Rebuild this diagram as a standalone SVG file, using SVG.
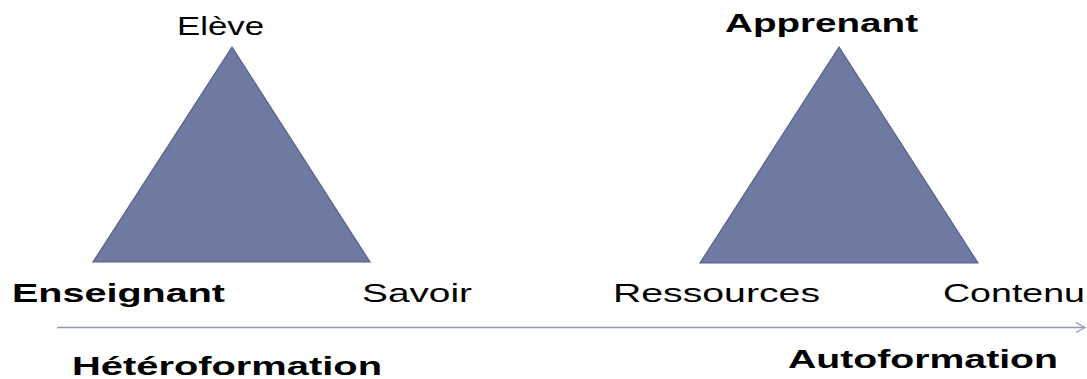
<svg xmlns="http://www.w3.org/2000/svg" width="1087" height="379" viewBox="0 0 1087 379">
<style>
.tri{fill:#6e7aa1;stroke:#55608a;stroke-width:1.2}
.t{font-family:"Liberation Sans",Arial,sans-serif;font-size:26px;fill:#000}
.b{font-weight:bold}
.axis{stroke:#8e98b6;stroke-width:1.6;fill:none}
</style>
<defs>
<marker id="arr" markerWidth="12" markerHeight="12" refX="10" refY="6" orient="auto" markerUnits="userSpaceOnUse">
<path d="M1,1 L10,6 L1,11" fill="none" stroke="#8e98b6" stroke-width="1.2"/>
</marker>
</defs>
<rect width="1087" height="379" fill="#fff"/>
<g id="triangle-hetero">
<polygon class="tri" points="232,47 93,262 370,262"/>
</g>
<g id="triangle-auto">
<polygon class="tri" points="839,47 700,263 978,263"/>
</g>
<g id="node-eleve"><text class="t" x="177" y="35" textLength="87" lengthAdjust="spacingAndGlyphs">Elève</text></g>
<g id="node-enseignant"><text class="t b" x="12" y="302" textLength="213" lengthAdjust="spacingAndGlyphs">Enseignant</text></g>
<g id="node-savoir"><text class="t" x="362" y="302" textLength="110" lengthAdjust="spacingAndGlyphs">Savoir</text></g>
<g id="node-apprenant"><text class="t b" x="725" y="32" textLength="193" lengthAdjust="spacingAndGlyphs">Apprenant</text></g>
<g id="node-ressources"><text class="t" x="613" y="302" textLength="207" lengthAdjust="spacingAndGlyphs">Ressources</text></g>
<g id="node-contenu"><text class="t" x="943" y="302" textLength="142" lengthAdjust="spacingAndGlyphs">Contenu</text></g>
<g id="label-hetero"><text class="t b" x="72" y="375" textLength="310" lengthAdjust="spacingAndGlyphs">Hétéroformation</text></g>
<g id="label-auto"><text class="t b" x="788" y="368" textLength="270" lengthAdjust="spacingAndGlyphs">Autoformation</text></g>
<g id="connectors">
<line class="axis" x1="57" y1="327.5" x2="1085" y2="327.5" marker-end="url(#arr)"/>
</g>
</svg>
